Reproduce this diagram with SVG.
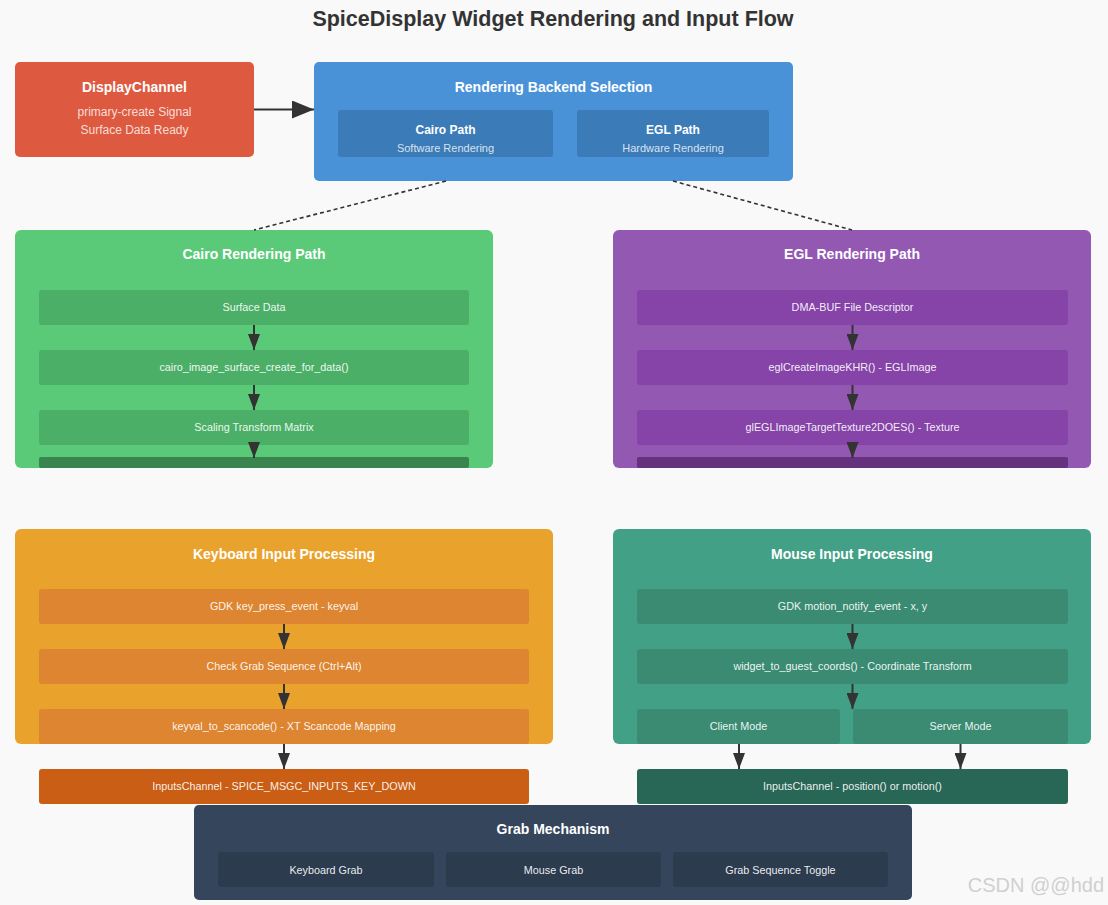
<svg xmlns="http://www.w3.org/2000/svg" width="1108" height="905" viewBox="0 0 1108 905">
<defs>
<marker id="ah" markerUnits="userSpaceOnUse" markerWidth="22" markerHeight="18" viewBox="0 0 22 18" refX="22" refY="9" orient="auto"><path d="M0,0 L22,9 L0,18 Z" fill="#333"/></marker>
<marker id="as" markerUnits="userSpaceOnUse" markerWidth="16" markerHeight="12" viewBox="0 0 16 12" refX="16" refY="6" orient="auto"><path d="M0,0 L16,6 L0,12 Z" fill="#333"/></marker>
<style>
text{font-family:"Liberation Sans",Arial,sans-serif;text-anchor:middle;fill:#fff}
.title{font-size:21.5px;font-weight:bold;fill:#333}
.h{font-size:14px;font-weight:bold}
.hs{font-size:12px;font-weight:bold}
.sub{font-size:12px;fill-opacity:0.8}
.ss{font-size:11px;fill-opacity:0.8}
.t{font-size:10.8px;fill-opacity:0.92}
.wm{font-size:20px;fill:#d0d0d0;text-anchor:end}
.sl{stroke:#333;stroke-width:2;fill:none}
.dl{stroke:#333;stroke-width:1.6;stroke-dasharray:4 3;fill:none}
</style>
</defs>
<rect width="1108" height="905" fill="#f9f9f9"/>
<text class="title" x="553" y="26">SpiceDisplay Widget Rendering and Input Flow</text>

<g id="display-channel">
<rect x="15" y="62" width="239" height="95" rx="5" fill="#dd5a40"/>
<text class="h" x="134.5" y="92">DisplayChannel</text>
<text class="sub" x="134.5" y="116">primary-create Signal</text>
<text class="sub" x="134.5" y="134">Surface Data Ready</text>
</g>

<g id="backend-selection">
<rect x="314" y="62" width="479" height="119" rx="5" fill="#4a92d8"/>
<text class="h" x="553.5" y="92">Rendering Backend Selection</text>
<rect x="338" y="110" width="215" height="47" rx="3" fill="#3b7bb8"/>
<text class="hs" x="445.5" y="134">Cairo Path</text>
<text class="ss" x="445.5" y="152">Software Rendering</text>
<rect x="577" y="110" width="192" height="47" rx="3" fill="#3b7bb8"/>
<text class="hs" x="673" y="134">EGL Path</text>
<text class="ss" x="673" y="152">Hardware Rendering</text>
</g>

<g id="cairo-path">
<rect x="15" y="230" width="478" height="238" rx="6" fill="#5aca78"/>
<text class="h" x="254" y="259">Cairo Rendering Path</text>
<rect x="39" y="290" width="430" height="35" rx="3" fill="#4caf68"/>
<text class="t" x="254" y="311">Surface Data</text>
<rect x="39" y="350" width="430" height="35" rx="3" fill="#4caf68"/>
<text class="t" x="254" y="371">cairo_image_surface_create_for_data()</text>
<rect x="39" y="410" width="430" height="35" rx="3" fill="#4caf68"/>
<text class="t" x="254" y="431">Scaling Transform Matrix</text>
<rect x="39" y="457" width="430" height="11" rx="2" fill="#3a844f"/>
</g>

<g id="egl-path">
<rect x="613" y="230" width="478" height="238" rx="6" fill="#9359b2"/>
<text class="h" x="852" y="259">EGL Rendering Path</text>
<rect x="637" y="290" width="431" height="35" rx="3" fill="#8644a9"/>
<text class="t" x="852.5" y="311">DMA-BUF File Descriptor</text>
<rect x="637" y="350" width="431" height="35" rx="3" fill="#8644a9"/>
<text class="t" x="852.5" y="371">eglCreateImageKHR() - EGLImage</text>
<rect x="637" y="410" width="431" height="35" rx="3" fill="#8644a9"/>
<text class="t" x="852.5" y="431">glEGLImageTargetTexture2DOES() - Texture</text>
<rect x="637" y="457" width="431" height="11" rx="2" fill="#65327d"/>
</g>

<g id="keyboard-input">
<rect x="15" y="529" width="538" height="215" rx="6" fill="#e9a22c"/>
<text class="h" x="284" y="559">Keyboard Input Processing</text>
<rect x="39" y="589" width="490" height="35" rx="3" fill="#dd8530"/>
<text class="t" x="284" y="610">GDK key_press_event - keyval</text>
<rect x="39" y="649" width="490" height="35" rx="3" fill="#dd8530"/>
<text class="t" x="284" y="670">Check Grab Sequence (Ctrl+Alt)</text>
<rect x="39" y="709" width="490" height="35" rx="3" fill="#dd8530"/>
<text class="t" x="284" y="730">keyval_to_scancode() - XT Scancode Mapping</text>
</g>

<g id="keyboard-inputs-channel">
<rect x="39" y="769" width="490" height="35" rx="3" fill="#c95e14"/>
<text class="t" x="284" y="790">InputsChannel - SPICE_MSGC_INPUTS_KEY_DOWN</text>
</g>

<g id="mouse-input">
<rect x="613" y="529" width="478" height="215" rx="6" fill="#42a086"/>
<text class="h" x="852" y="559">Mouse Input Processing</text>
<rect x="637" y="589" width="431" height="35" rx="3" fill="#3a8b72"/>
<text class="t" x="852.5" y="610">GDK motion_notify_event - x, y</text>
<rect x="637" y="649" width="431" height="35" rx="3" fill="#3a8b72"/>
<text class="t" x="852.5" y="670">widget_to_guest_coords() - Coordinate Transform</text>
<rect x="637" y="709" width="203" height="35" rx="3" fill="#3a8b72"/>
<text class="t" x="738.5" y="730">Client Mode</text>
<rect x="853" y="709" width="215" height="35" rx="3" fill="#3a8b72"/>
<text class="t" x="960.5" y="730">Server Mode</text>
</g>

<g id="mouse-inputs-channel">
<rect x="637" y="769" width="431" height="35" rx="3" fill="#286656"/>
<text class="t" x="852.5" y="790">InputsChannel - position() or motion()</text>
</g>

<g id="grab-mechanism">
<rect x="194" y="805" width="718" height="95" rx="5" fill="#35465c"/>
<text class="h" x="553" y="834">Grab Mechanism</text>
<rect x="218" y="852" width="216" height="35" rx="3" fill="#2d3b4f"/>
<text class="t" x="326" y="874">Keyboard Grab</text>
<rect x="446" y="852" width="215" height="35" rx="3" fill="#2d3b4f"/>
<text class="t" x="553.5" y="874">Mouse Grab</text>
<rect x="673" y="852" width="215" height="35" rx="3" fill="#2d3b4f"/>
<text class="t" x="780.5" y="874">Grab Sequence Toggle</text>
</g>

<g id="connectors">
<line class="sl" x1="254" y1="109.5" x2="314" y2="109.5" marker-end="url(#ah)"/>
<line class="dl" x1="446" y1="181" x2="254" y2="230"/>
<line class="dl" x1="673" y1="181" x2="852" y2="230"/>
<line class="sl" x1="254" y1="325" x2="254" y2="350" marker-end="url(#as)"/>
<line class="sl" x1="254" y1="385" x2="254" y2="410" marker-end="url(#as)"/>
<line class="sl" x1="254" y1="445" x2="254" y2="458" marker-end="url(#as)"/>
<line class="sl" x1="852.5" y1="325" x2="852.5" y2="350" marker-end="url(#as)"/>
<line class="sl" x1="852.5" y1="385" x2="852.5" y2="410" marker-end="url(#as)"/>
<line class="sl" x1="852.5" y1="445" x2="852.5" y2="458" marker-end="url(#as)"/>
<line class="sl" x1="284" y1="624" x2="284" y2="649" marker-end="url(#as)"/>
<line class="sl" x1="284" y1="684" x2="284" y2="709" marker-end="url(#as)"/>
<line class="sl" x1="284" y1="744" x2="284" y2="769" marker-end="url(#as)"/>
<line class="sl" x1="852.5" y1="624" x2="852.5" y2="649" marker-end="url(#as)"/>
<line class="sl" x1="852.5" y1="684" x2="852.5" y2="709" marker-end="url(#as)"/>
<line class="sl" x1="739" y1="744" x2="739" y2="769" marker-end="url(#as)"/>
<line class="sl" x1="960.5" y1="744" x2="960.5" y2="769" marker-end="url(#as)"/>
</g>

<text class="wm" x="1104" y="892">CSDN @@hdd</text>
</svg>
